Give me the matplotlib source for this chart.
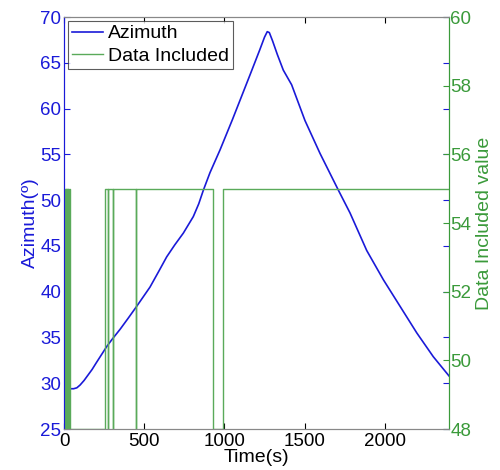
import matplotlib
matplotlib.use("Agg")
import matplotlib.pyplot as plt
import numpy as np

plt.rcParams['font.family'] = ['Liberation Sans', 'DejaVu Sans']

# Azimuth curve (time s, degrees)
az_time = [0, 15, 30, 60, 80, 100, 125, 150, 175, 200, 233, 266, 300, 350, 400, 453,
           536, 590, 640, 690, 744, 806, 840, 869, 910, 973, 1050, 1160, 1220, 1250,
           1267, 1280, 1300, 1330, 1367, 1419, 1502, 1596, 1710, 1783, 1887, 1991,
           2095, 2199, 2302, 2400]
az_vals = [29.9, 29.6, 29.4, 29.4, 29.5, 29.8, 30.3, 30.9, 31.5, 32.2, 33.1, 34.0,
           34.8, 35.9, 37.1, 38.4, 40.5, 42.2, 43.8, 45.1, 46.4, 48.2, 49.6, 51.1,
           53.0, 55.5, 58.8, 63.7, 66.4, 67.8, 68.4, 68.3, 67.4, 65.9, 64.2, 62.6,
           58.7, 55.1, 51.1, 48.6, 44.5, 41.3, 38.4, 35.5, 32.9, 30.8]

# Data Included step signal (transition times, value after transition)
di_time = [0, 3, 5, 8, 10, 13, 15, 18, 20, 23, 25, 28, 30, 36, 254, 274, 277, 305, 308,
           447, 450, 931, 990, 2400]
di_vals = [55, 48, 55, 48, 55, 48, 55, 48, 55, 48, 55, 48, 55, 48, 55, 48, 55, 48, 55,
           48, 55, 48, 55, 55]

blue = '#1a1ad8'
green = '#3a9a3a'
line_green = '#5aaa5a'

fig = plt.figure(figsize=(5.0, 4.7), dpi=100)
ax = fig.add_axes([0.128, 0.0872, 0.77, 0.8766])
ax2 = ax.twinx()

l1, = ax.plot(az_time, az_vals, color=blue, lw=1.2, label='Azimuth')
l2, = ax2.step(di_time, di_vals, where='post', color=line_green, lw=1.0, label='Data Included')

ax.set_xlim(0, 2400)
ax.set_ylim(25, 70)
ax2.set_ylim(48, 60)
ax.set_xticks([0, 500, 1000, 1500, 2000])
ax.set_yticks(range(25, 71, 5))
ax2.set_yticks(range(48, 61, 2))

fs = 13.5
lfs = 14
ax.tick_params(axis='x', labelsize=fs, colors='black', direction='in', top=True, length=4, pad=3)
ax.tick_params(axis='y', labelsize=fs, labelcolor=blue, color=blue, direction='in', right=True, length=4, pad=2)
ax2.tick_params(axis='y', labelsize=fs, labelcolor=green, color=green, direction='in', length=4, pad=1)

ax.set_xlabel('Time(s)', fontsize=lfs, labelpad=-1)
ax.set_ylabel('Azimuth(º)', fontsize=lfs, color=blue, labelpad=1)
ax2.set_ylabel('Data Included value', fontsize=lfs, color=green, labelpad=3)

for a in (ax, ax2):
    a.spines['top'].set_color('#888888')
    a.spines['bottom'].set_color('#888888')
    a.spines['left'].set_color(blue)
    a.spines['right'].set_color(green)

leg = ax.legend([l1, l2], ['Azimuth', 'Data Included'], loc='upper left', fontsize=lfs,
                frameon=True, fancybox=False, edgecolor='#333333', borderpad=0.2,
                handlelength=1.6, handletextpad=0.25, labelspacing=0.25,
                borderaxespad=0.2)
leg.get_frame().set_linewidth(0.8)

fig.savefig('out.png', dpi=100)
